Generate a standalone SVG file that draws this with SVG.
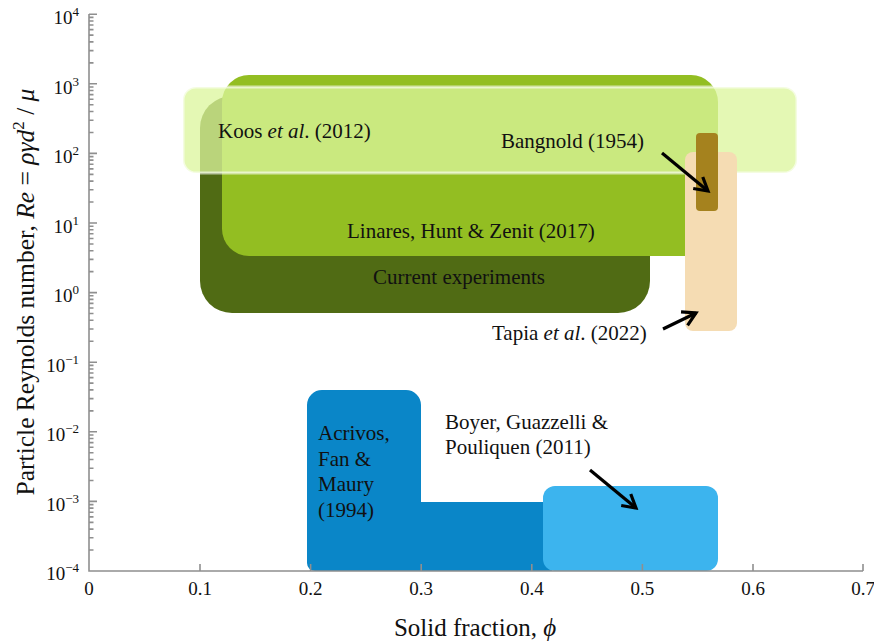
<svg xmlns="http://www.w3.org/2000/svg" width="874" height="641" viewBox="0 0 874 641">
<defs>
<style>
text{font-family:"Liberation Serif","Times New Roman",serif;fill:#111}
.tick{font-size:19px}
.sup{font-size:13px}
.lbl{font-size:21px}
.title{font-size:25px}
.ytitle{font-size:25.5px}
.it{font-style:italic}
.axis{stroke:#8f8f8f;stroke-width:1.6;fill:none}
.arrow{stroke:#000;stroke-width:3.2;fill:none;marker-end:url(#head)}
</style>
<marker id="head" markerUnits="userSpaceOnUse" markerWidth="30" markerHeight="30" viewBox="-15 -15 30 30" refX="0" refY="0" orient="auto" overflow="visible">
<path d="M -13 -7.5 L 0 0 L -13 7.5" stroke="#000" stroke-width="3.2" fill="none" stroke-linejoin="miter"/>
</marker>
</defs>
<rect width="874" height="641" fill="#fff"/>

<g id="current-experiments">
<rect x="200" y="96" width="450" height="217" rx="32" fill="#506b14"/>
</g>
<g id="linares">
<rect x="222" y="75" width="496" height="181" rx="27" fill="#93be22"/>
</g>
<g id="koos">
<rect x="183" y="87" width="614" height="86" rx="13" fill="#dcf69c" fill-opacity="0.76" stroke="#ffffff" stroke-opacity="0.6" stroke-width="3"/>
</g>
<g id="tapia">
<rect x="685" y="152" width="52" height="179" rx="8" fill="#f5dcb3"/>
</g>
<g id="bangnold">
<rect x="696" y="133" width="22" height="78" rx="4" fill="#a5821e"/>
</g>
<g id="acrivos">
<path d="M 307 405 A 15 15 0 0 1 322 390 L 406 390 A 15 15 0 0 1 421 405 L 421 502 L 552 502 L 552 571 L 315 571 A 8 8 0 0 1 307 563 Z" fill="#0a86c8"/>
</g>
<g id="boyer">
<rect x="543" y="486" width="175" height="85" rx="12" fill="#3cb4ee"/>
</g>

<g id="axes">
<path class="axis" d="M 89 14 L 89 571 L 863 571"/>
<path class="axis" d="M 200 571 V 564 M 310.6 571 V 564 M 421.2 571 V 564 M 531.8 571 V 564 M 642.4 571 V 564 M 753 571 V 564 M 863 571 V 564"/>
<path class="axis" d="M 89 14.2 H 97 M 89 83.8 H 97 M 89 153.4 H 97 M 89 223 H 97 M 89 292.6 H 97 M 89 362.2 H 97 M 89 431.8 H 97 M 89 501.4 H 97"/>
<path class="axis" stroke-width="1.2" d="M89 550.05h4.5M89 537.79h4.5M89 529.1h4.5M89 522.35h4.5M89 516.84h4.5M89 512.18h4.5M89 508.15h4.5M89 504.59h4.5M89 480.45h4.5M89 468.19h4.5M89 459.5h4.5M89 452.75h4.5M89 447.24h4.5M89 442.58h4.5M89 438.55h4.5M89 434.99h4.5M89 410.85h4.5M89 398.59h4.5M89 389.9h4.5M89 383.15h4.5M89 377.64h4.5M89 372.98h4.5M89 368.95h4.5M89 365.39h4.5M89 341.25h4.5M89 328.99h4.5M89 320.3h4.5M89 313.55h4.5M89 308.04h4.5M89 303.38h4.5M89 299.35h4.5M89 295.79h4.5M89 271.65h4.5M89 259.39h4.5M89 250.7h4.5M89 243.95h4.5M89 238.44h4.5M89 233.78h4.5M89 229.75h4.5M89 226.19h4.5M89 202.05h4.5M89 189.79h4.5M89 181.1h4.5M89 174.35h4.5M89 168.84h4.5M89 164.18h4.5M89 160.15h4.5M89 156.59h4.5M89 132.45h4.5M89 120.19h4.5M89 111.5h4.5M89 104.75h4.5M89 99.24h4.5M89 94.58h4.5M89 90.55h4.5M89 86.99h4.5M89 62.85h4.5M89 50.59h4.5M89 41.9h4.5M89 35.15h4.5M89 29.64h4.5M89 24.98h4.5M89 20.95h4.5M89 17.39h4.5"/>
<g class="tick" text-anchor="end">
<text x="79" y="24">10<tspan class="sup" dy="-8">4</tspan></text>
<text x="79" y="93.5">10<tspan class="sup" dy="-8">3</tspan></text>
<text x="79" y="163">10<tspan class="sup" dy="-8">2</tspan></text>
<text x="79" y="232.5">10<tspan class="sup" dy="-8">1</tspan></text>
<text x="79" y="302">10<tspan class="sup" dy="-8">0</tspan></text>
<text x="79" y="371.5">10<tspan class="sup" dy="-8">−1</tspan></text>
<text x="79" y="441">10<tspan class="sup" dy="-8">−2</tspan></text>
<text x="79" y="510.5">10<tspan class="sup" dy="-8">−3</tspan></text>
<text x="79" y="580">10<tspan class="sup" dy="-8">−4</tspan></text>
</g>
<g class="tick" text-anchor="middle">
<text x="89" y="595">0</text>
<text x="200" y="595">0.1</text>
<text x="310.6" y="595">0.2</text>
<text x="421.2" y="595">0.3</text>
<text x="531.8" y="595">0.4</text>
<text x="642.4" y="595">0.5</text>
<text x="753" y="595">0.6</text>
<text x="863" y="595">0.7</text>
</g>
<text class="title" x="475" y="636" text-anchor="middle">Solid fraction, <tspan class="it">ϕ</tspan></text>
<text class="ytitle" transform="translate(34,292) rotate(-90)" text-anchor="middle">Particle Reynolds number, <tspan class="it">Re</tspan> = <tspan class="it">ργd</tspan><tspan font-size="17" dy="-10">2</tspan><tspan dy="10"> / </tspan><tspan class="it">μ</tspan></text>
</g>

<g id="labels" class="lbl">
<text x="218" y="138">Koos <tspan class="it">et al</tspan>. (2012)</text>
<text x="501" y="148">Bangnold (1954)</text>
<text x="347" y="238">Linares, Hunt &amp; Zenit (2017)</text>
<text x="373" y="284">Current experiments</text>
<text x="492" y="340">Tapia <tspan class="it">et al</tspan>. (2022)</text>
<text x="318" y="440">Acrivos,</text>
<text x="318" y="465.5">Fan &amp;</text>
<text x="318" y="491">Maury</text>
<text x="318" y="516.5">(1994)</text>
<text x="445" y="429">Boyer, Guazzelli &amp;</text>
<text x="445" y="454">Pouliquen (2011)</text>
</g>

<g id="connectors">
<line class="arrow" x1="662" y1="153" x2="708" y2="191"/>
<line class="arrow" x1="663" y1="329" x2="696" y2="313"/>
<line class="arrow" x1="590" y1="470" x2="636" y2="508"/>
</g>
</svg>
